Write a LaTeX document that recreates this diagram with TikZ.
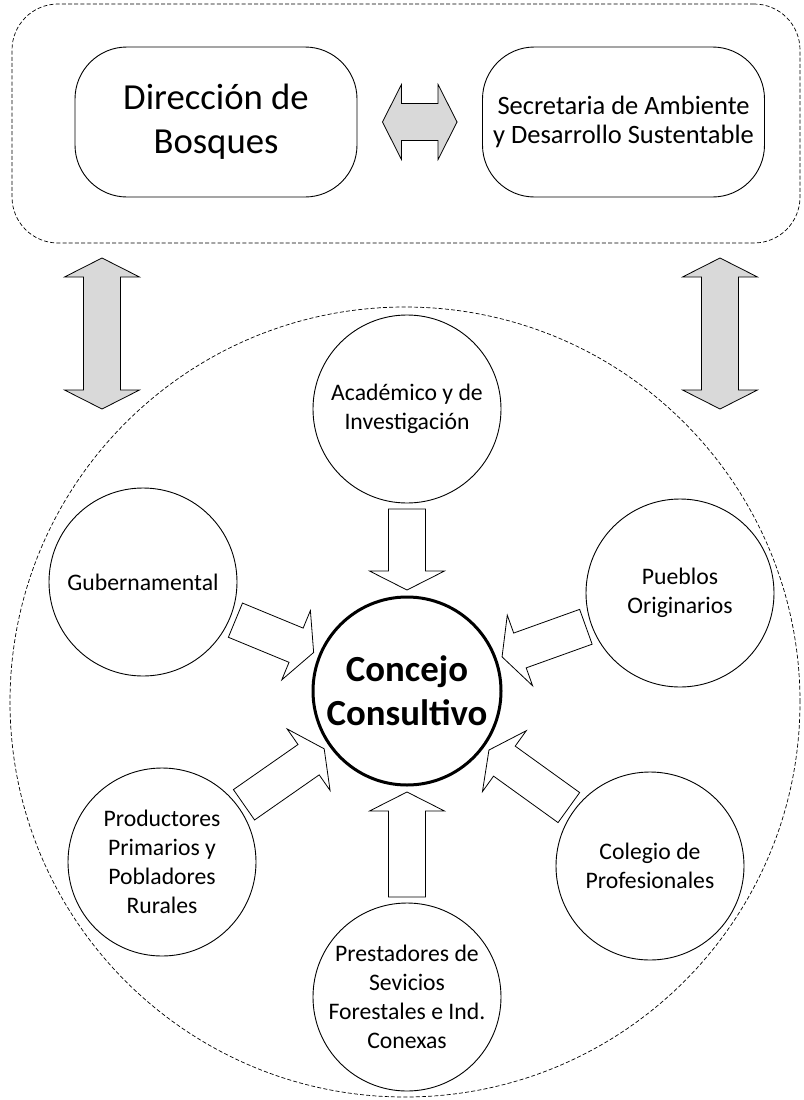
\documentclass[tikz,border=0pt]{standalone}
\usepackage{fontspec}
\setmainfont{Carlito}
\usetikzlibrary{calc}
\definecolor{arrowgray}{HTML}{D9D9D9}

\tikzset{
  dashline/.style={draw,line width=0.7pt,dash pattern=on 4pt off 2.2pt},
  container/.style={dashline,rectangle,rounded corners=46pt,minimum width=788pt,minimum height=239pt,inner sep=0pt},
  bigcirc/.style={dashline,circle,minimum size=790pt,inner sep=0pt},
  roundbox/.style={draw,line width=0.9pt,rectangle,rounded corners=52pt,minimum width=282pt,minimum height=150pt,inner sep=0pt,align=center},
  member/.style={draw,line width=0.9pt,circle,fill=white,minimum size=188pt,inner sep=0pt,align=center,font=\fontsize{23.7}{28.8}\selectfont},
  central/.style={draw,line width=3pt,circle,fill=white,minimum size=188pt,inner sep=0pt,align=center,font=\fontsize{36.8}{44}\selectfont\bfseries},
  blockarrow/.style={draw,line width=0.8pt,fill=white,line join=miter},
  grayarrow/.style={draw,line width=0.8pt,fill=arrowgray,line join=miter}
}

% block arrow from node #1 to node #2
\newcommand{\flowarrow}[2]{%
  \coordinate (fa-t) at ($(#1.center)!100pt!(#2.center)$);
  \coordinate (fa-p) at ($(#2.center)!101pt!(#1.center)$);
  \coordinate (fa-h) at ($(fa-p)!19pt!(fa-t)$);
  \draw[blockarrow] ($(fa-t)!18.5pt!90:(fa-p)$) -- ($(fa-h)!18.5pt!90:(fa-p)$)
    -- ($(fa-h)!37.5pt!90:(fa-p)$) -- (fa-p) -- ($(fa-h)!37.5pt!-90:(fa-p)$)
    -- ($(fa-h)!18.5pt!-90:(fa-p)$) -- ($(fa-t)!18.5pt!-90:(fa-p)$) -- cycle;
}

% double block arrow between two named coordinates (tips)
\newcommand{\dblarrow}[2]{%
  \coordinate (da-h1) at ($(#1)!19pt!(#2)$);
  \coordinate (da-h2) at ($(#2)!19pt!(#1)$);
  \draw[grayarrow] (#1) -- ($(da-h1)!37.5pt!90:(#2)$) -- ($(da-h1)!18.5pt!90:(#2)$)
    -- ($(da-h2)!18.5pt!-90:(#1)$) -- ($(da-h2)!37.5pt!-90:(#1)$) -- (#2)
    -- ($(da-h2)!37.5pt!90:(#1)$) -- ($(da-h2)!18.5pt!90:(#1)$)
    -- ($(da-h1)!18.5pt!-90:(#2)$) -- ($(da-h1)!37.5pt!-90:(#2)$) -- cycle;
}

\begin{document}
\begin{tikzpicture}[x=1pt,y=1pt]
\useasboundingbox (0,0) rectangle (803,-1100);

% top group
\node[container] (top) at (406,-123.5) {};
\node[roundbox,font=\fontsize{36.7}{44}\selectfont] (dir) at (216,-122) {Dirección de\\Bosques};
\node[roundbox,font=\fontsize{26.5}{28.5}\selectfont] (sec) at (623.5,-122) {Secretaria de Ambiente\\y Desarrollo Sustentable};
\coordinate (h1) at ($(dir.east)+(25,0)$);
\coordinate (h2) at ($(sec.west)+(-25,0)$);
\dblarrow{h1}{h2}

% big dashed circle
\node[bigcirc] (council) at (405,-702) {};

% vertical double arrows between the two groups
\coordinate (l1) at (102,-258);
\coordinate (l2) at (102,-409);
\coordinate (r1) at (720,-258);
\coordinate (r2) at (720,-409);
\dblarrow{l1}{l2}
\dblarrow{r1}{r2}

% members
\node[central] (cc) at (407,-691) {Concejo\\Consultivo};
\node[member] (acad) at (407,-409) {Académico y de\\Investigación};
\node[member] (gub) at (143,-582) {Gubernamental};
\node[member] (pue) at (680,-593) {Pueblos\\Originarios};
\node[member] (prod) at (162,-862) {Productores\\Primarios y\\Pobladores\\Rurales};
\node[member] (cole) at (650,-866) {Colegio de\\Profesionales};
\node[member] (pres) at (407,-997) {Prestadores de\\Sevicios\\Forestales e Ind.\\Conexas};

% arrows into the council
\flowarrow{acad}{cc}
\flowarrow{gub}{cc}
\flowarrow{pue}{cc}
\flowarrow{prod}{cc}
\flowarrow{cole}{cc}
\flowarrow{pres}{cc}
\end{tikzpicture}
\end{document}
